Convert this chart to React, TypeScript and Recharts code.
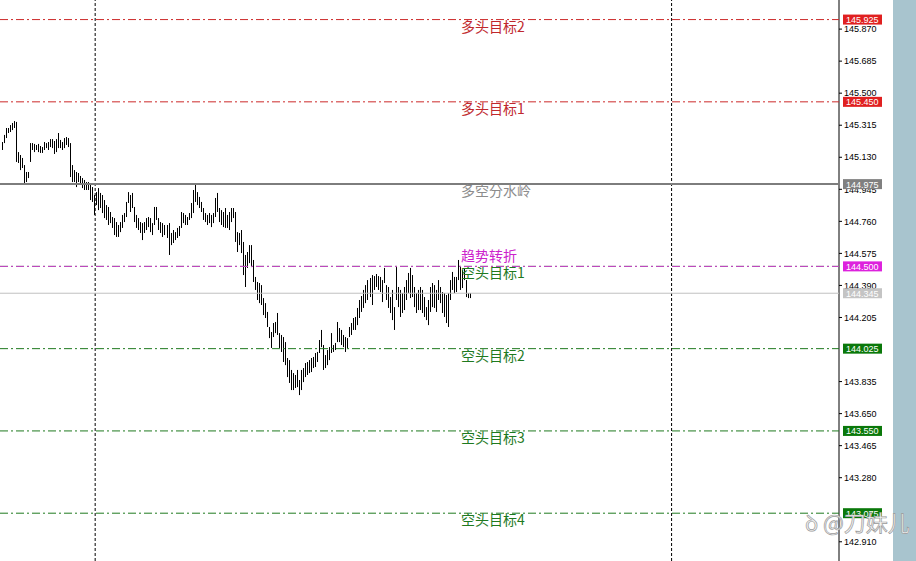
import React from 'react'
import { ComposedChart, Bar, XAxis, YAxis, ReferenceLine } from 'recharts'

// bar highs / lows (2px per bar, oldest first)
const highs = [
  145.218, 145.259, 145.299, 145.299, 145.316, 145.328, 145.339, 145.334, 145.160, 145.143,
  145.126, 145.085, 145.045, 145.045, 145.212, 145.212, 145.207, 145.201, 145.207, 145.195,
  145.189, 145.218, 145.212, 145.218, 145.235, 145.235, 145.224, 145.235, 145.270, 145.230,
  145.218, 145.241, 145.247, 145.241, 145.212, 145.085, 145.056, 145.045, 145.039, 145.022,
  145.010, 144.999, 144.987, 144.987, 144.981,
  144.958, 144.912, 144.929, 144.952, 144.924, 144.912, 144.883, 144.854, 144.843, 144.814,
  144.785, 144.779, 144.756, 144.739, 144.756, 144.797, 144.808, 144.872, 144.929, 144.912,
  144.924, 144.843, 144.797, 144.779, 144.756, 144.750, 144.756, 144.779, 144.785, 144.779,
  144.750, 144.843, 144.843, 144.779, 144.756, 144.750, 144.739, 144.739, 144.750, 144.693,
  144.710, 144.698, 144.722, 144.733,
  144.814, 144.808, 144.797, 144.785, 144.808, 144.866, 144.941, 144.970, 144.929, 144.901,
  144.872, 144.837, 144.808, 144.797, 144.808, 144.797, 144.808, 144.895, 144.924, 144.837,
  144.825, 144.814, 144.837, 144.797, 144.814, 144.837, 144.837, 144.814, 144.698, 144.693,
  144.710, 144.641, 144.566, 144.583, 144.623, 144.623, 144.537, 144.439, 144.410, 144.404,
  144.392, 144.317, 144.288, 144.237, 144.150, 144.121, 144.173, 144.179, 144.231, 144.115,
  144.104, 144.092, 144.063, 143.971, 143.959, 143.902, 143.884, 143.873, 143.902, 143.844,
  143.902, 143.913, 143.942, 143.948, 143.959, 143.971, 143.977, 144.000, 144.006, 144.075,
  144.133, 144.046, 143.988, 144.017, 144.034, 144.115, 144.046, 144.058, 144.179, 144.144,
  144.133, 144.104, 144.092, 144.086, 144.150, 144.173, 144.202, 144.208, 144.260,
  144.306, 144.329, 144.364, 144.392, 144.421, 144.433, 144.450, 144.444, 144.456, 144.444,
  144.439, 144.421, 144.491, 144.392, 144.381, 144.323, 144.364, 144.265, 144.496, 144.381,
  144.364, 144.346, 144.381, 144.421, 144.462, 144.491, 144.450, 144.381, 144.346, 144.364,
  144.381, 144.364, 144.323, 144.265, 144.306, 144.381, 144.404, 144.392, 144.364, 144.421,
  144.381, 144.352, 144.346, 144.335, 144.346, 144.421, 144.468, 144.439, 144.439, 144.537,
  144.496, 144.479, 144.491, 144.421, 144.346, 144.346,
]

const lows = [
  145.172, 145.212, 145.241, 145.270, 145.276, 145.287, 145.299, 145.103, 145.097, 145.056,
  145.068, 144.981, 144.987, 145.010, 145.103, 145.172, 145.160, 145.172, 145.160, 145.155,
  145.155, 145.172, 145.183, 145.172, 145.189, 145.183, 145.149, 145.160, 145.183, 145.183,
  145.172, 145.183, 145.201, 145.189, 145.016, 144.987, 144.987, 144.958, 144.987, 144.970,
  144.952, 144.941, 144.941, 144.941, 144.883,
  144.872, 144.797, 144.854, 144.825, 144.837, 144.808, 144.779, 144.768, 144.739, 144.750,
  144.722, 144.681, 144.670, 144.670, 144.698, 144.722, 144.756, 144.785, 144.866, 144.814,
  144.837, 144.756, 144.722, 144.710, 144.693, 144.652, 144.693, 144.710, 144.727, 144.698,
  144.681, 144.739, 144.768, 144.710, 144.693, 144.670, 144.681, 144.664, 144.566, 144.623,
  144.635, 144.652, 144.664, 144.675,
  144.722, 144.750, 144.739, 144.739, 144.768, 144.779, 144.808, 144.872, 144.854, 144.837,
  144.814, 144.768, 144.756, 144.739, 144.750, 144.727, 144.750, 144.785, 144.814, 144.756,
  144.739, 144.727, 144.722, 144.722, 144.710, 144.756, 144.779, 144.641, 144.583, 144.623,
  144.577, 144.450, 144.381, 144.491, 144.519, 144.496, 144.410, 144.364, 144.306, 144.288,
  144.277, 144.219, 144.202, 144.150, 144.086, 144.029, 144.092, 144.115, 144.104, 144.029,
  144.006, 143.948, 143.930, 143.861, 143.827, 143.786, 143.786, 143.798, 143.803, 143.757,
  143.786, 143.832, 143.861, 143.873, 143.884, 143.890, 143.913, 143.919, 143.948, 144.000,
  144.034, 143.902, 143.913, 143.930, 143.959, 144.000, 144.006, 144.017, 144.063, 144.063,
  144.046, 144.034, 144.006, 144.029, 144.092, 144.104, 144.133, 144.133, 144.161,
  144.202, 144.237, 144.260, 144.288, 144.306, 144.323, 144.277, 144.364, 144.381, 144.364,
  144.352, 144.294, 144.404, 144.306, 144.260, 144.231, 144.190, 144.133, 144.306, 144.265,
  144.208, 144.231, 144.248, 144.306, 144.346, 144.317, 144.323, 144.265, 144.231, 144.248,
  144.248, 144.231, 144.208, 144.190, 144.161, 144.237, 144.265, 144.260, 144.237, 144.306,
  144.288, 144.231, 144.208, 144.173, 144.150, 144.306, 144.364, 144.346, 144.352, 144.421,
  144.364, 144.375, 144.421, 144.323, 144.317, 144.317,
]

// visible price scale labels (the ones hidden under level tags are left out)
const priceTicks = [
  145.87, 145.685, 145.5, 145.315, 145.13, 144.945, 144.76, 144.575, 144.39, 144.205,
  143.835, 143.65, 143.465, 143.28, 142.91,
]

// period separators (bar index)
const separators = [46.5, 333.3]

const bullTargets = [
  { price: 145.925, name: '多头目标2' },
  { price: 145.45, name: '多头目标1' },
]
const bearTargets = [
  { price: 144.5, name: '空头目标1' },
  { price: 144.025, name: '空头目标2' },
  { price: 143.55, name: '空头目标3' },
  { price: 143.075, name: '空头目标4' },
]
const pivot = { price: 144.975, name: '多空分水岭' }
const turn = { price: 144.5, name: '趋势转折' }
const lastPrice = 144.345

const data = highs.map((h, i) => ({ i, range: [lows[i], h] }))

const W = 916
const H = 561
const Y_DOMAIN = [142.799, 146.038]
const X_DOMAIN = [-0.85, 416.6]
const CJK = '"Noto Sans CJK SC", sans-serif'
const AXIS_FONT = '"Liberation Sans", Arial, sans-serif'
const DASHDOT = '8 3 2 3'

function LevelLabel(props: any) {
  const { viewBox, price, text, textColor, above, tag, tagText } = props
  if (!viewBox) return null
  const { x, y, width } = viewBox
  const tx = x + width + 4
  return (
    <g>
      {text && (
        <text x={x + width * 0.5495} y={above ? y - 5 : y + 12} fill={textColor} fontSize={14} fontFamily={CJK}>
          {text}
        </text>
      )}
      {tag && (
        <g>
          <rect x={tx} y={y - 5} width={39} height={10} fill={tag} />
          <text x={tx + 3} y={y + 3.5} fill={tagText || '#fff'} fontSize={9} fontFamily={AXIS_FONT}>
            {price.toFixed(3)}
          </text>
        </g>
      )}
    </g>
  )
}

const PriceBar = (p: any) => (
  <rect x={Math.round(p.x + p.width / 2 - 0.5)} y={p.y} width={1} height={Math.max(p.height, 1)} fill="#000" />
)

export default function App() {
  return (
    <div style={{ position: 'absolute', left: 0, top: 0, width: W, height: H, background: '#fff' }}>
      <div style={{ position: 'absolute', left: 893, top: 0, width: 23, height: H, background: '#a8c4ce' }} />

      {/* price bars + price scale */}
      <div style={{ position: 'absolute', left: 0, top: 0 }}>
        <ComposedChart width={W} height={H} data={data} margin={{ top: 0, right: 0, bottom: 0, left: 0 }}>
          <XAxis dataKey="i" type="number" domain={X_DOMAIN} hide allowDataOverflow />
          <YAxis
            orientation="right"
            width={77}
            domain={Y_DOMAIN}
            allowDataOverflow
            ticks={priceTicks}
            interval={0}
            tickFormatter={(v: number) => v.toFixed(3)}
            tickSize={3}
            tickMargin={2}
            axisLine={{ stroke: '#000' }}
            tickLine={{ stroke: '#000' }}
            tick={{ fill: '#000', fontSize: 9, fontFamily: AXIS_FONT }}
          />
          {separators.map((s) => (
            <ReferenceLine key={'s' + s} x={s} stroke="#000" strokeDasharray="3 2" />
          ))}
          <Bar dataKey="range" barSize={1} isAnimationActive={false} shape={PriceBar} />
        </ComposedChart>
      </div>

      {/* level lines and their tags, drawn above the price scale */}
      <div style={{ position: 'absolute', left: 0, top: 0 }}>
        <ComposedChart width={W} height={H} data={data} margin={{ top: 0, right: 77, bottom: 0, left: 0 }}>
          <XAxis dataKey="i" type="number" domain={X_DOMAIN} hide allowDataOverflow />
          <YAxis domain={Y_DOMAIN} hide allowDataOverflow />
          {bullTargets.map((l) => (
            <ReferenceLine
              key={l.name}
              y={l.price}
              stroke="#cc2a2a"
              strokeDasharray={DASHDOT}
              label={<LevelLabel price={l.price} text={l.name} textColor="#c0282d" tag="#e02020" />}
            />
          ))}
          <ReferenceLine
            y={pivot.price}
            stroke="#7d7d7d"
            strokeWidth={2}
            label={<LevelLabel price={pivot.price} text={pivot.name} textColor="#8c8c8c" tag="#808080" />}
          />
          {bearTargets.map((l) => (
            <ReferenceLine
              key={l.name}
              y={l.price}
              stroke="#1f7a1f"
              strokeDasharray={DASHDOT}
              label={<LevelLabel price={l.price} text={l.name} textColor="#1f7a1f" tag={l.price === turn.price ? undefined : '#0a780a'} />}
            />
          ))}
          <ReferenceLine
            y={turn.price}
            stroke="#d040d0"
            strokeDasharray={DASHDOT}
            label={<LevelLabel price={turn.price} text={turn.name} textColor="#cc22cc" above tag="#dd22dd" />}
          />
          <ReferenceLine
            y={lastPrice}
            stroke="#c0c0c0"
            label={<LevelLabel price={lastPrice} tag="#c4c4c4" />}
          />
        </ComposedChart>
      </div>

      <div
        style={{
          position: 'absolute',
          left: 805,
          top: 505,
          fontFamily: CJK,
          fontSize: 22,
          color: '#f4f4f4',
          WebkitTextStroke: '0.7px #9a9a9a',
          whiteSpace: 'nowrap',
        }}
      >
        ꝺ @刀妹儿
      </div>
    </div>
  )
}
